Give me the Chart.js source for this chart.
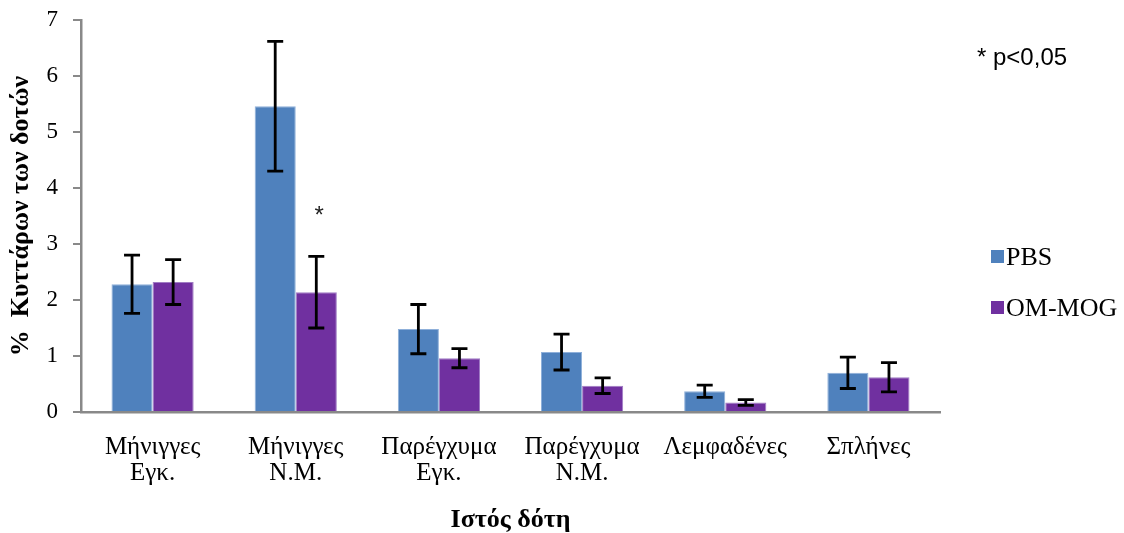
<!DOCTYPE html>
<html>
<head>
<meta charset="utf-8">
<script src="https://cdn.jsdelivr.net/npm/chart.js@4.4.1/dist/chart.umd.min.js"></script>
<style>
  html, body { margin: 0; padding: 0; background: #ffffff; }
  #wrap { width: 1124px; height: 533px; }
</style>
</head>
<body>
<div id="wrap"><canvas id="c" width="1124" height="533"></canvas></div>
<script>
// Tissue categories (two-line labels)
const categories = [
  ['Μήνιγγες', 'Εγκ.'],
  ['Μήνιγγες', 'Ν.Μ.'],
  ['Παρέγχυμα', 'Εγκ.'],
  ['Παρέγχυμα', 'Ν.Μ.'],
  ['Λεμφαδένες'],
  ['Σπλήνες']
];
// Mean % of donor cells
const pbsValues   = [2.28, 5.46, 1.48, 1.07, 0.37, 0.70];
const omMogValues = [2.32, 2.14, 0.96, 0.47, 0.17, 0.62];
// Error half-widths
const pbsErrors   = [0.52, 1.16, 0.44, 0.32, 0.11, 0.28];
const omMogErrors = [0.40, 0.64, 0.17, 0.14, 0.05, 0.26];
// Significance marks per category (OM-MOG vs PBS)
const sigMarks = ['', '*', '', '', '', ''];
const yTicks = [0, 1, 2, 3, 4, 5, 6, 7];

const serif = '"Liberation Serif", "Times New Roman", serif';
const sans = '"Liberation Sans", Arial, sans-serif';

const errorBarPlugin = {
  id: 'errorBars',
  afterDatasetsDraw(chart) {
    const ctx = chart.ctx;
    const y = chart.scales.y;
    chart.data.datasets.forEach((ds, di) => {
      const meta = chart.getDatasetMeta(di);
      meta.data.forEach((bar, i) => {
        const v = ds.data[i], e = ds.errors[i];
        const top = y.getPixelForValue(v + e);
        const bot = y.getPixelForValue(v - e);
        const x = bar.x;
        ctx.save();
        ctx.strokeStyle = '#000';
        ctx.lineWidth = 2.8;
        ctx.beginPath();
        ctx.moveTo(x, top); ctx.lineTo(x, bot);
        ctx.moveTo(x - 8, top); ctx.lineTo(x + 8, top);
        ctx.moveTo(x - 8, bot); ctx.lineTo(x + 8, bot);
        ctx.stroke();
        ctx.restore();
        if (di === 1 && sigMarks[i]) {
          ctx.save();
          ctx.fillStyle = '#222';
          ctx.font = '24px ' + sans;
          ctx.textAlign = 'center';
          ctx.textBaseline = 'middle';
          ctx.fillText(sigMarks[i], x + 3, top - 40);
          ctx.restore();
        }
      });
    });
  }
};

const legendPlugin = {
  id: 'sideLegend',
  afterDraw(chart) {
    const ctx = chart.ctx;
    ctx.save();
    ctx.fillStyle = '#000';
    ctx.font = '24px ' + sans;
    ctx.textBaseline = 'middle';
    ctx.fillText('* p<0,05', 977, 58);
    ctx.font = '26px ' + serif;
    chart.data.datasets.forEach((ds, i) => {
      const yy = 258 + i * 51;
      ctx.fillStyle = ds.backgroundColor;
      ctx.fillRect(991, yy - 8, 13, 13);
      ctx.fillStyle = '#000';
      ctx.fillText(ds.label, 1006, yy);
    });
    ctx.restore();
  }
};

new Chart(document.getElementById('c'), {
  type: 'bar',
  data: {
    labels: categories,
    datasets: [
      { label: 'PBS', data: pbsValues, errors: pbsErrors,
        backgroundColor: '#4F81BD', borderColor: '#8FB0DA', borderWidth: 1 },
      { label: 'OM-MOG', data: omMogValues, errors: omMogErrors,
        backgroundColor: '#7030A0', borderColor: '#A07CC4', borderWidth: 1 }
    ]
  },
  options: {
    responsive: false,
    animation: false,
    layout: { padding: { top: 20, right: 184, left: 0, bottom: 0 } },
    datasets: { bar: { categoryPercentage: 0.574, barPercentage: 1.0 } },
    plugins: { legend: { display: false }, tooltip: { enabled: false } },
    scales: {
      x: {
        grid: { display: false, drawTicks: false },
        border: { color: '#898989', width: 2.5 },
        ticks: { font: { family: serif, size: 25, lineHeight: 1.05 }, color: '#000', padding: 22, maxRotation: 0, autoSkip: false },
        title: { display: true, text: 'Ιστός δότη', color: '#000',
                 font: { family: serif, size: 26, weight: 'bold', lineHeight: 1.0 }, padding: { top: 10, bottom: 0 } },
        afterFit(s) { s.height = 121; s.paddingLeft = 0; s.paddingRight = 0; }
      },
      y: {
        min: 0, max: 7,
        afterBuildTicks(s) { s.ticks = yTicks.map(v => ({ value: v })); },
        grid: { display: true, drawOnChartArea: false, drawTicks: true, tickLength: 8, color: '#898989', lineWidth: 2 },
        border: { color: '#898989', width: 2.5 },
        ticks: { font: { family: serif, size: 23 }, color: '#000', padding: 15 },
        title: { display: true, text: '%  Κυττάρων των δοτών', color: '#000',
                 font: { family: serif, size: 26, weight: 'bold' }, padding: { top: 6, bottom: 0 } },
        afterFit(s) { s.width = 81; s.paddingTop = 0; s.paddingBottom = 0; }
      }
    }
  },
  plugins: [errorBarPlugin, legendPlugin]
});
</script>
</body>
</html>
